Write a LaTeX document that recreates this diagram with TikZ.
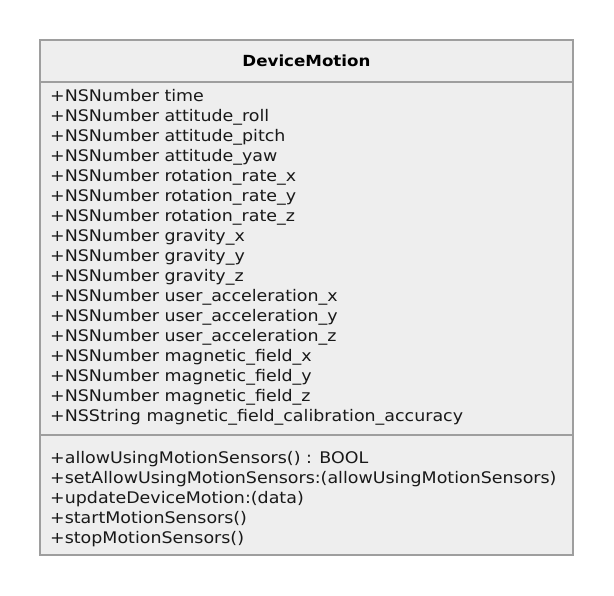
\documentclass[tikz,border=0pt]{standalone}
\usepackage{fontspec}
\setmainfont{DejaVu Sans}[FakeStretch=1.09]
\usetikzlibrary{positioning}

\begin{document}
\begin{tikzpicture}[%
x=1pt, y=1pt,
node distance=0pt,
compartment/.style={draw=umlborder, fill=umlfill, line width=1.6pt,
  rectangle, outer sep=0pt, inner sep=0pt, minimum width=533pt},
members/.style={anchor=north west, inner sep=0pt, align=left,
  text=black!90, font=\fontsize{16}{20}\selectfont}
]
\definecolor{umlborder}{HTML}{9E9E9E}
\definecolor{umlfill}{HTML}{EEEEEE}
\useasboundingbox (0,0) rectangle (614,-596);

% class box: name, attributes, operations
\node[compartment, minimum height=42pt] (header) at (306.5,-61)
  {\fontsize{15.3}{20}\selectfont\bfseries DeviceMotion};
\node[compartment, minimum height=353pt] (attrs) [below=of header] {};
\node[compartment, minimum height=120pt] (ops) [below=of attrs] {};

\node[members] (attrtext) at ([xshift=10pt, yshift=-7.5pt] attrs.north west) {%
+NSNumber time\\
+NSNumber attitude\_roll\\
+NSNumber attitude\_pitch\\
+NSNumber attitude\_yaw\\
+NSNumber rotation\_rate\_x\\
+NSNumber rotation\_rate\_y\\
+NSNumber rotation\_rate\_z\\
+NSNumber gravity\_x\\
+NSNumber gravity\_y\\
+NSNumber gravity\_z\\
+NSNumber user\_acceleration\_x\\
+NSNumber user\_acceleration\_y\\
+NSNumber user\_acceleration\_z\\
+NSNumber magnetic\_field\_x\\
+NSNumber magnetic\_field\_y\\
+NSNumber magnetic\_field\_z\\
+NSString magnetic\_field\_calibration\_accuracy};

\node[members] (optext) at ([xshift=10pt, yshift=-16.5pt] ops.north west) {%
+allowUsingMotionSensors() : BOOL\\
+setAllowUsingMotionSensors:(allowUsingMotionSensors)\\
+updateDeviceMotion:(data)\\
+startMotionSensors()\\
+stopMotionSensors()};
\end{tikzpicture}
\end{document}
